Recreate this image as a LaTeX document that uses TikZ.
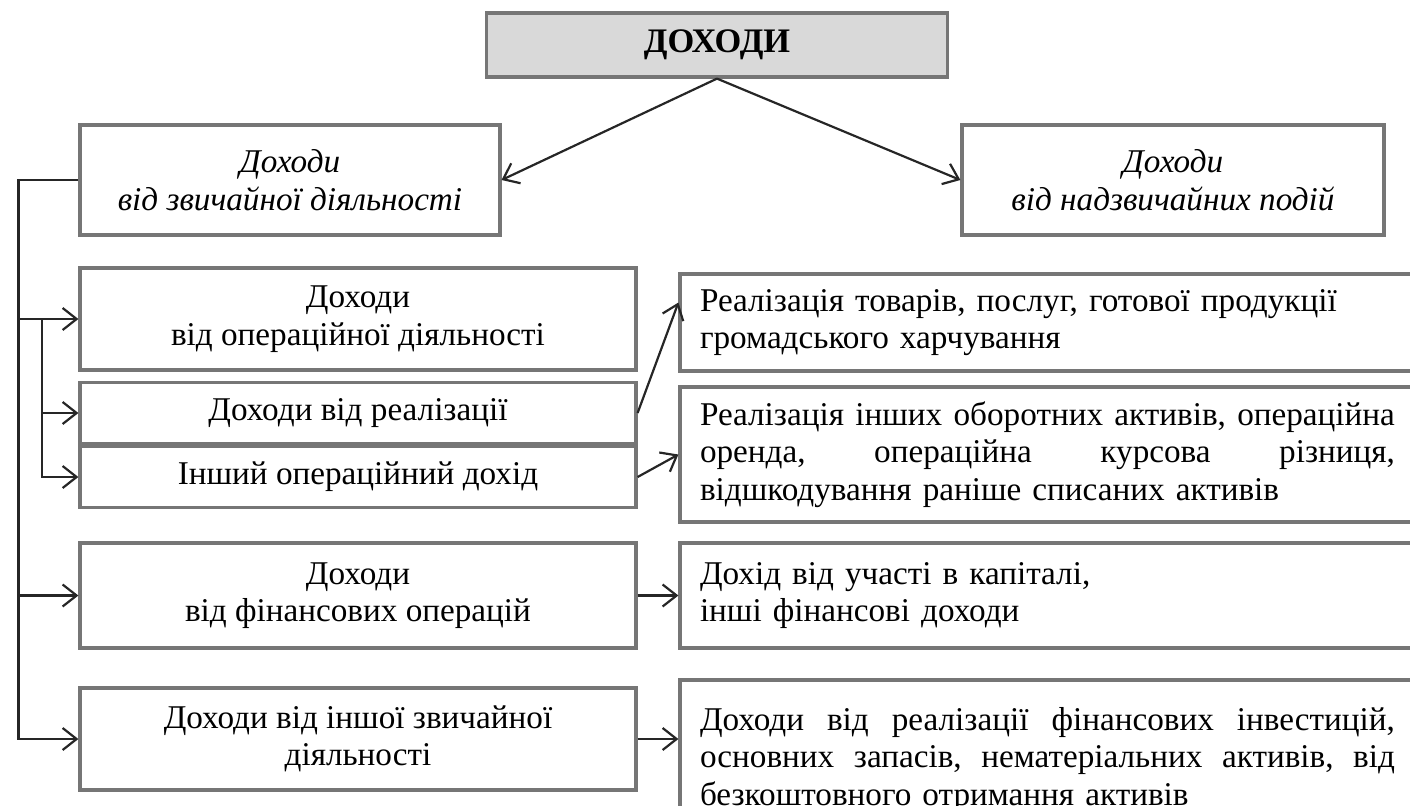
\documentclass[tikz,border=0pt]{standalone}
\usepackage{fontspec}
\setmainfont{Liberation Serif}
\usetikzlibrary{arrows.meta, positioning, calc}
\definecolor{brd}{HTML}{767676}
\definecolor{lin}{HTML}{262626}
\newlength{\jw}\setlength{\jw}{347.5pt}
\newcommand{\jline}[1]{\leavevmode\hbox to\jw{#1}}
\tikzset{
  blk/.style={draw=brd, line width=1.6pt, inner sep=0pt, align=center, font=\fontsize{16.6}{18.7}\selectfont},
  hdr/.style={blk, fill=black!15, font=\fontsize{17.2}{20}\selectfont\bfseries},
  itl/.style={blk, font=\fontsize{16.6}{19}\selectfont\itshape},
  txt/.style={blk, align=left, text width=355pt, inner xsep=10pt, minimum width=375pt},
  tra/.style={-{Straight Barb[length=7pt,width=11pt]}, draw=lin, line width=1.1pt},
  lnk/.style={draw=lin, line width=1.1pt}
}
\begin{document}
\begin{tikzpicture}[x=0.5pt, y=-0.5pt]
		\useasboundingbox (0,0) rectangle (1410,805);
		\clip (0,0) rectangle (1410,805);
		\node[hdr, minimum width=230.5pt, minimum height=32pt] (doh) at (717,45) {ДОХОДИ};
		\node[itl, minimum width=210pt, minimum height=55pt] (zv) at (290,180) {Доходи\\від звичайної діяльності};
		\node[itl, minimum width=211pt, minimum height=55pt] (nadz) at (1173,180) {Доходи\\від надзвичайних подій};
		\node[blk, minimum width=278pt, minimum height=51pt] (oper) at (358,319) {Доходи\\від операційної діяльності};
		\node[blk, minimum width=278pt, minimum height=30.5pt] (real) at (358,413) {Доходи від реалізації};
		\node[blk, minimum width=278pt, minimum height=30.2pt] (insh) at (358,477) {Інший операційний дохід};
		\node[blk, minimum width=278pt, minimum height=52.5pt] (fin) at (358,595.5) {Доходи\\від фінансових операцій};
		\node[blk, minimum width=278pt, minimum height=51pt] (inzv) at (358,739) {Доходи від іншої звичайної\\діяльності};
		\node[txt, minimum height=48.5pt] (rtov) at (1055,322.5) {Реалізація товарів, послуг, готової продукції\\громадського харчування};
		\node[txt, minimum height=67.5pt] (rinsh) at (1055,454.5) {\jline{Реалізація \hfill інших \hfill оборотних \hfill активів, \hfill операційна}\\\jline{оренда, \hfill операційна \hfill курсова \hfill різниця,}\\відшкодування раніше списаних активів};
		\node[txt, minimum height=52.5pt] (rkap) at (1055,595.5) {Дохід від участі в капіталі,\\інші фінансові доходи};
		\node[txt, minimum height=80pt] (rfin) at (1055,760) {\jline{Доходи \hfill від \hfill реалізації \hfill фінансових \hfill інвестицій,}\\\jline{основних \hfill запасів, \hfill нематеріальних \hfill активів, \hfill від}\\безкоштовного отримання активів};
		\coordinate[left=30pt of zv.west] (lb);
		\coordinate (ib) at (42,319);
		\draw[tra] (doh.south) -- (zv.east);
		\draw[tra] (doh.south) -- (nadz.west);
		\draw[tra] (zv.west) -- (lb) |- (inzv.west);
		\draw[tra] (lb |- oper.west) -- (oper.west);
		\draw[tra] (lb |- fin.west) -- (fin.west);
		\draw[tra] (ib) |- (insh.west);
		\draw[tra] (ib |- real.west) -- (real.west);
		\draw[tra] (real.east) -- ([yshift=10pt]rtov.west);
		\draw[tra] (insh.east) -- (rinsh.west);
		\draw[tra] (fin.east) -- (rkap.west);
		\draw[tra] (inzv.east) -- (inzv.east -| rfin.west);
	\end{tikzpicture}
\end{document}
